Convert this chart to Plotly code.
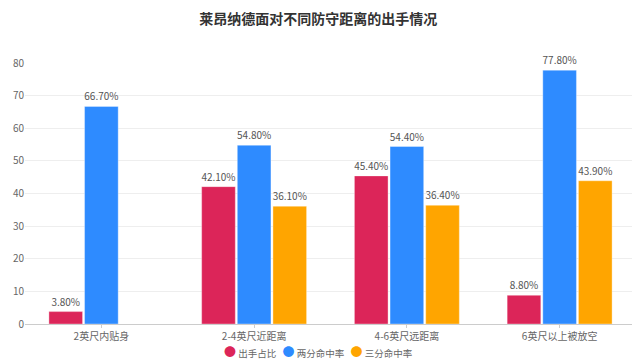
import plotly.graph_objects as go

categories = ["2英尺内贴身", "2-4英尺近距离", "4-6英尺远距离", "6英尺以上被放空"]
series_names = ["出手占比", "两分命中率", "三分命中率"]
shot_share = [3.8, 42.1, 45.4, 8.8]
two_pt = [66.7, 54.8, 54.4, 77.8]
three_pt = [None, 36.1, 36.4, 43.9]
colors = ["#dc2559", "#2e8bff", "#ffa500"]
y_ticks = [0, 10, 20, 30, 40, 50, 60, 70, 80]

font_family = "Microsoft YaHei, Noto Sans CJK SC, sans-serif"

# the page body adds an 8px margin, so the figure is 8px smaller than the window
W, H = 632, 354
L, R, T, B = 17, 4, 55, 38
PW, PH = W - L - R, H - T - B

fig = go.Figure()
for name, vals, c in zip(series_names, [shot_share, two_pt, three_pt], colors):
    fig.add_trace(go.Bar(
        x=categories, y=vals, name=name, showlegend=False,
        marker=dict(color=c, line=dict(color="rgba(255,255,255,0.35)", width=1)),
        text=[None if v is None else f"{v:.2f}%" for v in vals],
        textposition="outside", cliponaxis=False, constraintext="none",
        textfont=dict(size=10, color="#555"),
    ))

# legend line (circle markers + names), centred under the plot
legend_text = "&nbsp;&nbsp;&nbsp;".join(
    f"<span style='color:{c};font-size:12px'>●</span>&nbsp;{n}"
    for n, c in zip(series_names, colors)
)
fig.add_annotation(
    text=legend_text, xref="paper", yref="paper",
    x=(310 - L) / PW, y=-(343 - (T + PH)) / PH, xanchor="center", yanchor="middle",
    showarrow=False, font=dict(size=9.5, color="#666"),
)

fig.update_layout(
    width=W, height=H,
    margin=dict(l=L, r=R, t=T, b=B, autoexpand=False),
    paper_bgcolor="white", plot_bgcolor="white",
    font=dict(family=font_family, size=10, color="#666"),
    title=dict(text="<b>莱昂纳德面对不同防守距离的出手情况</b>", x=0.491, xanchor="center",
               y=1 - 11 / H, yanchor="middle", font=dict(size=14, color="#333")),
    barmode="group", bargap=0.3, bargroupgap=0.056,
    showlegend=False,
)
fig.update_xaxes(showline=True, linecolor="#ccc", ticks="outside", tickcolor="#ccc",
                 ticklen=3, tickfont=dict(size=10, color="#666"), automargin=False)
fig.update_yaxes(range=[0, 80], tickvals=y_ticks, showgrid=True, gridcolor="#eee",
                 zeroline=False, tickfont=dict(size=10, color="#666"), automargin=False)

fig.write_html("out.html")
